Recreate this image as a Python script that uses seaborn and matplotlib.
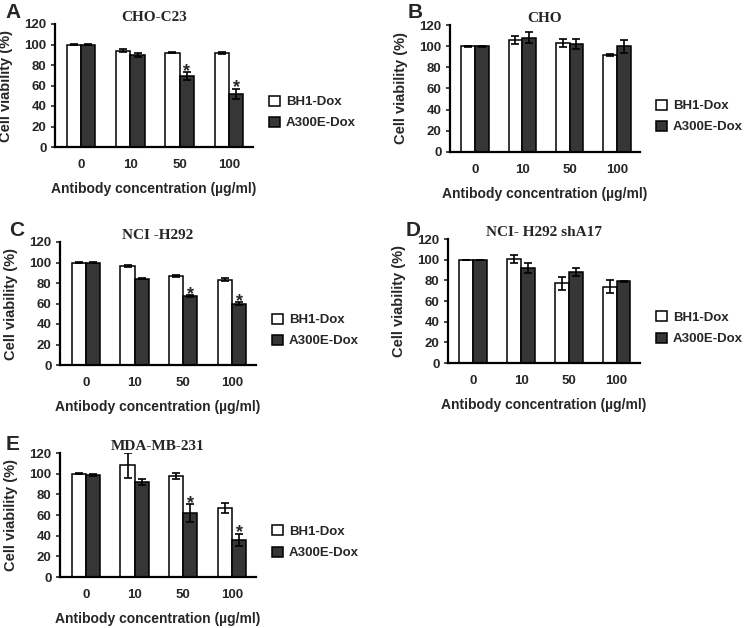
import matplotlib
matplotlib.use('Agg')
import pandas as pd
import matplotlib.pyplot as plt
import seaborn as sns

# x categories and groups
concentrations = ['0', '10', '50', '100']
treatments = ['BH1-Dox', 'A300E-Dox']

# one entry per panel (A..E)
panel_letters = ['A', 'B', 'C', 'D', 'E']
cell_lines = ['CHO-C23', 'CHO', 'NCI -H292', 'NCI- H292 shA17', 'MDA-MB-231']

bh1_mean = [[100, 94, 92, 92],
            [100, 106, 103, 92],
            [100, 97, 87, 83],
            [100, 101, 77, 74],
            [100, 108, 98, 67]]
bh1_err = [[0.8, 1.2, 0.6, 1.0],
           [0.5, 4, 4, 1],
           [0.5, 1, 1, 1.5],
           [0, 4, 6, 6],
           [0.5, 12, 3, 5]]
a300e_mean = [[100, 90, 69, 52],
              [100, 108, 102, 100],
              [100, 84, 67, 60],
              [100, 92, 88, 79],
              [99, 92, 62, 36]]
a300e_err = [[0.8, 2, 4, 5],
             [0.5, 5, 5, 6],
             [0.5, 0.5, 1, 1],
             [0, 5, 4, 0.5],
             [1, 3, 9, 6]]
# significance marks on the A300E-Dox bars
a300e_star = [[0, 0, 1, 1],
              [0, 0, 0, 0],
              [0, 0, 1, 1],
              [0, 0, 0, 0],
              [0, 0, 1, 1]]

sns.set_style('ticks')
plt.rcParams['font.family'] = ['Liberation Sans', 'DejaVu Sans']
plt.rcParams['font.weight'] = 'bold'

fig = plt.figure(figsize=(7.5, 6.28), dpi=100)
W, H = 750, 628

# axes placement in pixels: (left, y of 0 line, y of 120 line, width)
boxes = [(55, 147, 24, 198), (450, 152, 25, 190), (60, 365, 242, 196),
         (448, 363, 239, 192), (60, 577, 453, 196)]
letter_pos = [(13, 12), (415, 12), (17, 230), (413, 230), (13, 445)]

for p in range(5):
    left, y0, y120, ax_w = boxes[p]
    ax = fig.add_axes([left / W, 1 - y0 / H, ax_w / W, (y0 - y120) / H])

    df = pd.DataFrame({
        'conc': concentrations * 2,
        'treatment': [treatments[0]] * 4 + [treatments[1]] * 4,
        'viability': bh1_mean[p] + a300e_mean[p],
    })
    sns.barplot(data=df, x='conc', y='viability', hue='treatment',
                order=concentrations, hue_order=treatments,
                palette=['white', '#363636'], edgecolor='black', linewidth=1.1,
                width=0.58, errorbar=None, ax=ax)

    errs = [bh1_err[p], a300e_err[p]]
    bar_groups = list(ax.containers)
    for k, cont in enumerate(bar_groups):
        xs = [b.get_x() + b.get_width() / 2 for b in cont]
        hs = [b.get_height() for b in cont]
        ax.errorbar(xs, hs, yerr=errs[k], fmt='none', ecolor='black',
                    elinewidth=1.2, capsize=3, capthick=1.2, zorder=5)
        if k == 1:
            for j in range(4):
                if a300e_star[p][j]:
                    ax.text(xs[j], hs[j] + errs[k][j] + 0.5, '*', ha='center',
                            va='center', fontsize=13, fontweight='bold')

    ax.set_xlim(-0.53, 3.49)
    ax.set_ylim(0, 120)
    ax.set_yticks([0, 20, 40, 60, 80, 100, 120])
    sns.despine(ax=ax)
    for s in ['left', 'bottom']:
        ax.spines[s].set_linewidth(1.6)
        ax.spines[s].set_color('black')
    ax.tick_params(axis='y', length=3, width=1.2, pad=3, labelsize=9.5)
    ax.tick_params(axis='x', length=0, pad=9, labelsize=9.5)

    ax.set_ylabel('Cell viability (%)', fontsize=10.5, fontweight='bold')
    ax.yaxis.set_label_coords(-42 / ax_w, 0.5)
    ax.set_xlabel('Antibody concentration (\u00b5g/ml)', fontsize=10, fontweight='bold')
    ax.xaxis.set_label_coords(0.5, -35 / (y0 - y120))

    ax.set_title(cell_lines[p], fontsize=11, fontweight='bold',
                 family='Liberation Serif', pad=1)

    sns.move_legend(ax, 'center left', bbox_to_anchor=(1 + 16 / ax_w, 0.28),
                    frameon=False, title=None, fontsize=9.5,
                    handlelength=0.8, handleheight=0.8, handletextpad=0.5,
                    labelspacing=0.65, borderpad=0, borderaxespad=0)

    lx, ly = letter_pos[p]
    fig.text(lx / W, 1 - ly / H, panel_letters[p], fontsize=15,
             fontweight='bold', ha='center', va='center')

fig.savefig('out.png', dpi=100)
